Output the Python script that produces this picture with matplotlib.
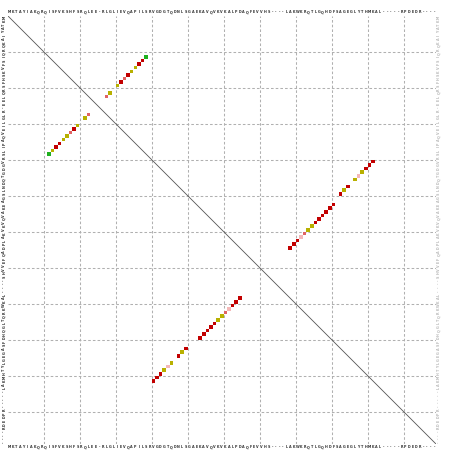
import matplotlib
matplotlib.use("Agg")
import matplotlib.pyplot as plt
import numpy as np

# sequence shown along both axes (one character per residue, '-' = gap)
sequence = ("MKTAYIAKQRQISFVKSHFSRQLEE" + "-" +
            "RLGLIEVQAPILSRVGDGTQDNLSGAEKAVQVKVKALPDAQFEVVHS" + "----" +
            "LAKWKRQTLGQHDFSAGEGLYTHMKAL" + "-----" +
            "RPDEDR" + "----")
seq_len = len(sequence)

# matched residue pairs (x residue, y residue) and score class
dot_x = [12, 13, 14, 15, 16, 17, 18, 19, 20, 22, 23, 28, 29, 31, 32, 33, 34, 35, 36, 37, 38, 39,
         79, 80, 81, 82, 83, 84, 85, 86, 87, 88, 89, 90, 91, 93, 94, 95, 97, 98, 99, 100, 101, 102,
         41, 42, 43, 44, 45, 46, 48, 49, 50, 54, 55, 56, 57, 58, 59, 60, 61, 62, 63, 64, 65]
dot_y = [39, 38, 37, 36, 35, 34, 33, 32, 31, 29, 28, 23, 22, 20, 19, 18, 17, 16, 15, 14, 13, 12,
         65, 64, 63, 62, 61, 60, 59, 58, 57, 56, 55, 54, 53, 50, 49, 48, 46, 45, 44, 43, 42, 41,
         102, 101, 100, 99, 98, 97, 95, 94, 93, 90, 89, 88, 87, 86, 85, 84, 83, 82, 81, 80, 79]
dot_class = ['G', 'O', 'D', 'D', 'O', 'O', 'L', 'D', 'O', 'O', 'L', 'L', 'O', 'O', 'D', 'L', 'D', 'O', 'O', 'D', 'D', 'G',
             'D', 'D', 'D', 'P', 'L', 'O', 'O', 'D', 'D', 'D', 'D', 'D', 'D', 'D', 'O', 'D', 'O', 'P', 'O', 'D', 'D', 'D',
             'D', 'D', 'D', 'O', 'P', 'O', 'D', 'O', 'D', 'D', 'D', 'D', 'D', 'D', 'O', 'O', 'L', 'P', 'D', 'D', 'D']

class_colors = {'G': '#1fb01f', 'O': '#b8b000', 'D': '#c20000', 'L': '#e06464', 'P': '#f4b8b8'}

fig = plt.figure(figsize=(4.52, 4.51), dpi=100)
ax = fig.add_axes([7.5 / 452, 7 / 451, 428.5 / 452, 428.5 / 451])

# grid every 10 residues
for v in range(10, seq_len, 10):
    ax.axvline(v, color='#b0b0b0', lw=0.75, ls=(0, (2.5, 2)), zorder=1)
    ax.axhline(v, color='#b0b0b0', lw=0.75, ls=(0, (2.5, 2)), zorder=1)

# main diagonal
ax.plot([0, seq_len], [0, seq_len], color='#555555', lw=0.6, zorder=2)

# dots, one square per matched pair
xs = np.array(dot_x) - 0.5
ys = np.array(dot_y) - 0.5
cols = [class_colors[c] for c in dot_class]
ax.scatter(xs, ys, s=6.5, marker='s', c=cols, linewidths=0, zorder=3)

ax.set_xlim(0, seq_len)
ax.set_ylim(seq_len, 0)

pos = np.arange(1, seq_len + 1) - 0.5
labels = list(sequence)
ax.set_xticks(pos, labels, fontsize=2.4, color='#333333', fontweight='bold')
ax.set_yticks(pos, labels, fontsize=2.4, color='#333333', fontweight='bold', rotation=90, va='center')
ax.tick_params(axis='both', length=0, pad=0.8, labeltop=True, labelbottom=True,
               labelleft=True, labelright=True)
for t in ax.yaxis.get_major_ticks():
    t.label2.set_color('#bbbbbb')

for s in ax.spines.values():
    s.set_visible(False)

fig.savefig("out.png", dpi=100)
